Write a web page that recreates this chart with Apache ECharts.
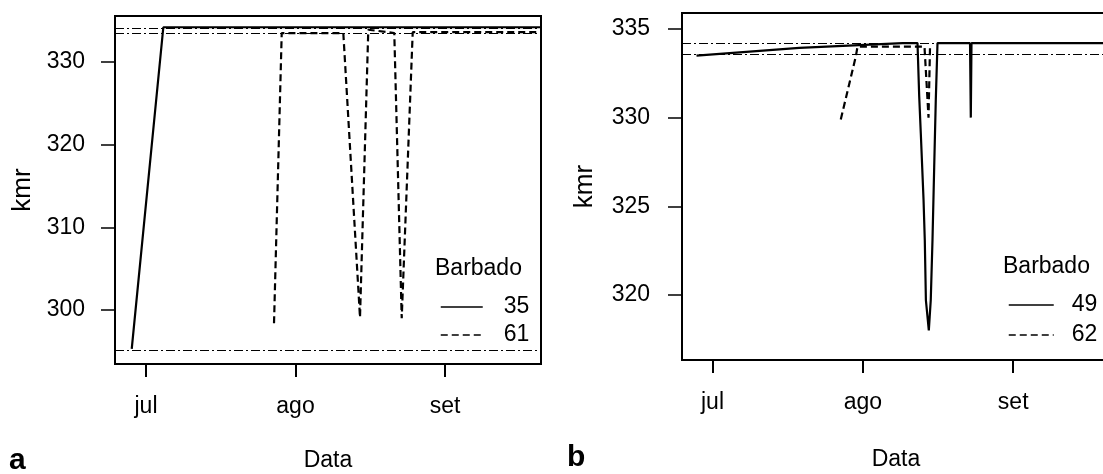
<!DOCTYPE html>
<html>
<head>
<meta charset="utf-8">
<script src="https://cdn.jsdelivr.net/npm/echarts@6/dist/echarts.min.js"></script>
<style>
  html, body { margin: 0; padding: 0; background: #fff; }
  #chart { width: 1103px; height: 474px; }
</style>
</head>
<body>
<div id="chart"></div>
<script>
// x = days counted from 1 July
var monthTicks = [0, 31, 62];
var monthLabels = ['jul', 'ago', 'set'];
var yTicksA = [300, 310, 320, 330];
var yTicksB = [320, 325, 330, 335];

// panel a
var daysA35 = [-2.96, 3.59, 82];
var kmrA35 = [295.3, 334.2, 334.2];
var daysA61 = [26.54, 28.14, 40.91, 44.37, 46.09, 51.48, 53.02, 55.30, 82];
var kmrA61 = [298.4, 333.5, 333.5, 299.1, 333.9, 333.5, 299.0, 333.6, 333.6];
var refA = [334.1, 333.5, 295.1];

// panel b
var daysB49 = [-3.3, 17.9, 39.2, 42.27, 42.62, 42.95, 43.51, 43.77, 44.0, 44.6, 45.0, 45.36, 45.71, 46.04, 46.39, 53.1, 53.26, 53.4, 82];
var kmrB49 = [333.5, 333.93, 334.2, 334.2, 331.2, 329.1, 325.4, 323.1, 319.7, 318.0, 319.7, 323.1, 327.2, 331.0, 334.2, 334.2, 330.0, 334.2, 334.2];
var daysB62 = [26.45, 29.55, 29.9, 43.71, 44.54, 44.85];
var kmrB62 = [329.9, 333.45, 334.0, 334.0, 330.0, 334.0];
var refB = [334.2, 333.55];

var font = '"Liberation Sans", Arial, sans-serif';

function pairs(xs, ys) {
  return xs.map(function (x, i) { return [x, ys[i]]; });
}

function xAxisFor(idx, min, max, gap) {
  return {
    type: 'value', gridIndex: idx, min: min, max: max,
    axisLine: { show: false, onZero: false },
    splitLine: { show: false },
    axisTick: { show: true, inside: false, length: 13, customValues: monthTicks, lineStyle: { color: '#000', width: 2 } },
    axisLabel: {
      customValues: monthTicks, margin: 31, fontSize: 23, color: '#000', fontFamily: font,
      formatter: function (v) { return monthLabels[monthTicks.indexOf(v)]; }
    },
    name: 'Data', nameLocation: 'middle', nameGap: gap, nameMoveOverlap: false,
    nameTextStyle: { fontSize: 23, color: '#000', fontFamily: font }
  };
}

function yAxisFor(idx, min, max, ticks, margin, gap) {
  return {
    type: 'value', gridIndex: idx, min: min, max: max,
    axisLine: { show: false, onZero: false },
    splitLine: { show: false },
    axisTick: { show: true, inside: false, length: 14, customValues: ticks, lineStyle: { color: '#000', width: 1.5 } },
    axisLabel: { customValues: ticks, margin: margin, fontSize: 23, color: '#000', fontFamily: font },
    name: 'kmr', nameLocation: 'middle', nameGap: gap, nameRotate: 90, nameMoveOverlap: false,
    nameTextStyle: { fontSize: 26, color: '#000', fontFamily: font }
  };
}

function refLines(vals) {
  return {
    silent: true, symbol: 'none', animation: false,
    label: { show: false },
    lineStyle: { color: '#000', width: 1.2, type: [9, 3, 2, 3] },
    data: vals.map(function (v) { return { yAxis: v }; })
  };
}

function lineSeries(name, idx, xs, ys, dashed, refs) {
  var s = {
    name: name, type: 'line', xAxisIndex: idx, yAxisIndex: idx,
    data: pairs(xs, ys), symbol: 'none',
    lineStyle: { color: '#000', width: 2.2, type: dashed ? [7, 4] : 'solid' },
    itemStyle: { color: '#000' }
  };
  if (refs) s.markLine = refLines(refs);
  return s;
}

function legendFor(names, left, top, w, h, pad) {
  return {
    orient: 'vertical', left: left, top: top, data: names, padding: 0,
    itemWidth: w, itemHeight: h, itemGap: 0, selectedMode: false,
    itemStyle: { color: 'rgba(0,0,0,0)', borderWidth: 0, opacity: 0 },
    lineStyle: { color: '#000', width: 1.5 },
    textStyle: { fontSize: 23, color: '#000', lineHeight: h, padding: [0, 0, 0, pad], fontFamily: font }
  };
}

var chart = echarts.init(document.getElementById('chart'));

var option = {
  animation: false,
  backgroundColor: '#fff',
  textStyle: { fontFamily: font },
  grid: [
    { left: 115, top: 16, width: 426, height: 348, show: true, borderColor: '#000', borderWidth: 2, outerBoundsMode: 'none' },
    { left: 682, top: 13, width: 428, height: 347, show: true, borderColor: '#000', borderWidth: 2, outerBoundsMode: 'none' }
  ],
  xAxis: [
    xAxisFor(0, -6.43, 81.9, 85),
    xAxisFor(1, -6.29, 81.96, 88)
  ],
  yAxis: [
    yAxisFor(0, 293.47, 335.56, yTicksA, 30, 79),
    yAxisFor(1, 316.33, 335.9, yTicksB, 32, 84)
  ],
  legend: [
    legendFor(['35', '61'], 440, 293, 42, 28, 16),
    legendFor(['49', '62'], 1008, 290, 45, 30, 13)
  ],
  graphic: [
    { type: 'text', x: 435, y: 269, style: { text: 'Barbado', fontSize: 23, fontFamily: font, fill: '#000', verticalAlign: 'middle' } },
    { type: 'text', x: 1003, y: 267, style: { text: 'Barbado', fontSize: 23, fontFamily: font, fill: '#000', verticalAlign: 'middle' } },
    { type: 'text', x: 9, y: 461, style: { text: 'a', fontSize: 30, fontWeight: 'bold', fontFamily: font, fill: '#000', verticalAlign: 'middle' } },
    { type: 'text', x: 567, y: 458, style: { text: 'b', fontSize: 30, fontWeight: 'bold', fontFamily: font, fill: '#000', verticalAlign: 'middle' } }
  ],
  series: [
    lineSeries('35', 0, daysA35, kmrA35, false, refA),
    lineSeries('61', 0, daysA61, kmrA61, true),
    lineSeries('49', 1, daysB49, kmrB49, false, refB),
    lineSeries('62', 1, daysB62, kmrB62, true)
  ]
};

chart.setOption(option);
</script>
</body>
</html>
